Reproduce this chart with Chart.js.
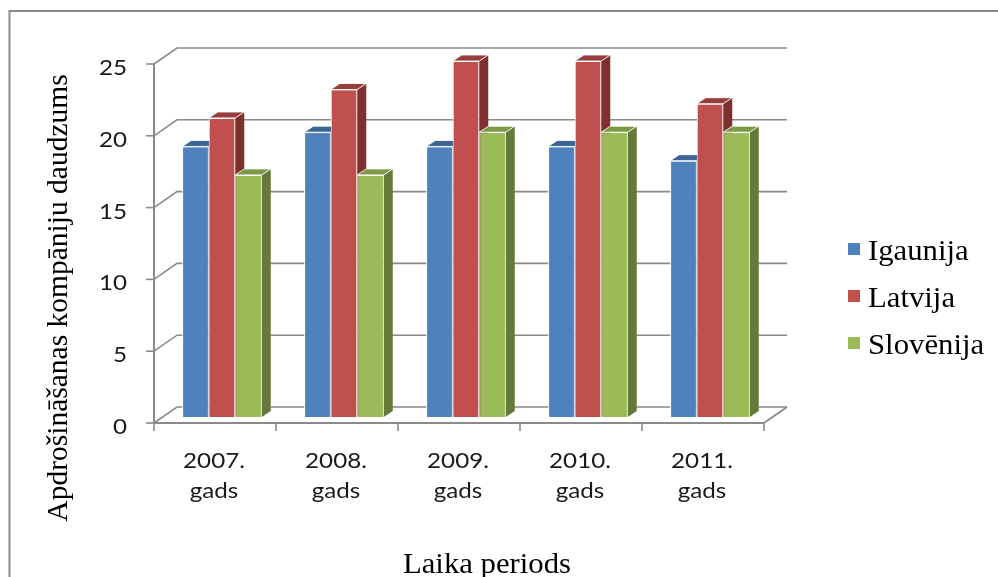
<!DOCTYPE html>
<html>
<head>
<meta charset="utf-8">
<script src="https://cdn.jsdelivr.net/npm/chart.js@4.4.1/dist/chart.umd.min.js"></script>
<style>
  html, body { margin: 0; padding: 0; background: #ffffff; }
  #wrap { width: 998px; height: 577px; position: relative; }
</style>
</head>
<body>
<div id="wrap"><canvas id="c" width="998" height="577"></canvas></div>
<script>
// ---- data ----
const categories = [['2007.', 'gads'], ['2008.', 'gads'], ['2009.', 'gads'], ['2010.', 'gads'], ['2011.', 'gads']];
const seriesNames = ['Igaunija', 'Latvija', 'Slovēnija'];
const igaunija = [19, 20, 19, 19, 18];
const latvija = [21, 23, 25, 25, 22];
const slovenija = [17, 17, 20, 20, 20];
const yTicks = [0, 5, 10, 15, 20, 25];
const yAxisTitle = 'Apdrošināšanas kompāniju daudzums';
const xAxisTitle = 'Laika periods';

// ---- styles ----
const frontColors = ['#4F81BD', '#C0504D', '#9BBB59'];
const topColors = ['#3C6594', '#963E3B', '#7C9A45'];
const sideColors = ['#345A87', '#7E302E', '#65793A'];
const gridColor = '#8a8a8a';
const tickFont = '22px Lato';
const tickSx = 1.1;

function sText(ctx, s, x, y, font, align, sx, baseline) {
  ctx.save();
  ctx.translate(x, y);
  ctx.scale(sx, 1);
  ctx.font = font;
  ctx.textAlign = align;
  ctx.textBaseline = baseline || 'alphabetic';
  ctx.fillText(s, 0, 0);
  ctx.restore();
}

const deco = {
  id: 'deco3d',
  beforeDatasetsDraw(chart) {
    const ctx = chart.ctx;
    const ca = chart.chartArea;
    const ys = chart.scales.y;
    const n = categories.length;
    const catW = (ca.right - ca.left) / n;
    const frontY = v => ys.getPixelForValue(v) + 6 - 3 * v / 25;
    const backY = v => ys.getPixelForValue(v) - 10 - 3 * v / 25;
    const fx0 = ca.left - 7, fx1 = ca.right - 7;
    const bx0 = ca.left + 16, bx1 = ca.right + 16;

    ctx.save();
    // outer frame
    ctx.strokeStyle = '#8c8c8c';
    ctx.lineWidth = 2;
    ctx.beginPath();
    ctx.moveTo(9.5, 577); ctx.lineTo(9.5, 11); ctx.lineTo(998, 11);
    ctx.stroke();

    // back wall gridlines + left diagonals
    ctx.strokeStyle = gridColor;
    ctx.lineWidth = 1.6;
    yTicks.forEach(v => {
      ctx.beginPath();
      ctx.moveTo(fx0, frontY(v));
      ctx.lineTo(bx0, backY(v));
      ctx.lineTo(bx1, backY(v));
      ctx.stroke();
      ctx.beginPath();
      ctx.moveTo(fx0 - 8, frontY(v));
      ctx.lineTo(fx0, frontY(v));
      ctx.stroke();
    });
    // floor: right diagonal
    ctx.beginPath();
    ctx.moveTo(fx1, frontY(0));
    ctx.lineTo(bx1, backY(0));
    ctx.stroke();
    // front vertical axis
    ctx.lineWidth = 2;
    ctx.beginPath();
    ctx.moveTo(fx0, frontY(25));
    ctx.lineTo(fx0, frontY(0));
    ctx.stroke();
    // front horizontal axis
    ctx.beginPath();
    ctx.moveTo(fx0, frontY(0));
    ctx.lineTo(fx1, frontY(0));
    ctx.stroke();
    // x tick marks
    ctx.lineWidth = 1.6;
    for (let i = 0; i <= n; i++) {
      const x = fx0 + i * catW;
      ctx.beginPath();
      ctx.moveTo(x, frontY(0));
      ctx.lineTo(x, frontY(0) + 8);
      ctx.stroke();
    }

    // y tick labels
    ctx.fillStyle = '#1a1a1a';
    yTicks.forEach(v => {
      sText(ctx, String(v), fx0 - 27, frontY(v) + 4, tickFont, 'right', tickSx, 'middle');
    });
    // x category labels
    categories.forEach((lab, i) => {
      const cx = fx0 + (i + 0.5) * catW - 1;
      sText(ctx, lab[0], cx, 468, tickFont, 'center', tickSx);
      sText(ctx, lab[1], cx, 498, tickFont, 'center', tickSx);
    });

    // axis titles
    ctx.fillStyle = '#000000';
    ctx.save();
    ctx.translate(67, 298);
    ctx.rotate(-Math.PI / 2);
    ctx.font = '29.5px "Liberation Serif"';
    ctx.textAlign = 'center';
    ctx.textBaseline = 'alphabetic';
    ctx.fillText(yAxisTitle, 0, 0);
    ctx.restore();
    sText(ctx, xAxisTitle, 487, 573, '29px "Liberation Serif"', 'center', 1.06);

    // legend
    seriesNames.forEach((name, k) => {
      const cy = 249 + k * 47;
      ctx.fillStyle = frontColors[k];
      ctx.fillRect(848, cy - 6, 12, 12);
      ctx.fillStyle = '#000000';
      sText(ctx, name, 868, cy + 10.5, '29px "Liberation Serif"', 'left', 1.06);
    });
    ctx.restore();
  },
  afterDatasetsDraw(chart) {
    const ctx = chart.ctx;
    const dx = 9, dy = 6;
    const metas = [0, 1, 2].map(k => chart.getDatasetMeta(k));
    ctx.save();
    for (let i = 0; i < categories.length; i++) {
      for (let k = 0; k < metas.length; k++) {
        const el = metas[k].data[i];
        el.draw(ctx);
        const left = el.x - el.width / 2;
        const right = el.x + el.width / 2;
        const top = el.y, base = el.base;
        ctx.lineWidth = 1;
        ctx.strokeStyle = 'rgba(255,255,255,0.85)';
        ctx.fillStyle = sideColors[k];
        ctx.beginPath();
        ctx.moveTo(right, top);
        ctx.lineTo(right + dx, top - dy);
        ctx.lineTo(right + dx, base - dy);
        ctx.lineTo(right, base);
        ctx.closePath();
        ctx.fill();
        ctx.fillStyle = topColors[k];
        ctx.beginPath();
        ctx.moveTo(left, top);
        ctx.lineTo(left + dx, top - dy);
        ctx.lineTo(right + dx, top - dy);
        ctx.lineTo(right, top);
        ctx.closePath();
        ctx.fill();
        ctx.stroke();
      }
    }
    ctx.restore();
  }
};

function build() {
  new Chart(document.getElementById('c'), {
    type: 'bar',
    data: {
      labels: categories,
      datasets: [
        { label: seriesNames[0], data: igaunija, backgroundColor: frontColors[0] },
        { label: seriesNames[1], data: latvija, backgroundColor: frontColors[1] },
        { label: seriesNames[2], data: slovenija, backgroundColor: frontColors[2] }
      ]
    },
    options: {
      responsive: false,
      devicePixelRatio: 1,
      animation: false,
      datasets: {
        bar: {
          borderColor: 'rgba(255,255,255,0.9)',
          borderWidth: 1,
          categoryPercentage: 0.652,
          barPercentage: 1.0
        }
      },
      layout: { padding: { left: 161, right: 227, top: 61, bottom: 160 } },
      scales: {
        x: { display: false },
        y: { display: false, min: 0, max: 25 }
      },
      plugins: {
        legend: { display: false },
        tooltip: { enabled: false },
        title: { display: false }
      }
    },
    plugins: [deco]
  });
}

const fontLoads = document.fonts && document.fonts.load
  ? Promise.all([
      document.fonts.load(tickFont, '2007.gads'),
      document.fonts.load('29px "Liberation Serif"', 'Igaunija')
    ]).catch(() => null)
  : Promise.resolve();
fontLoads.then(build, build);
</script>
</body>
</html>
